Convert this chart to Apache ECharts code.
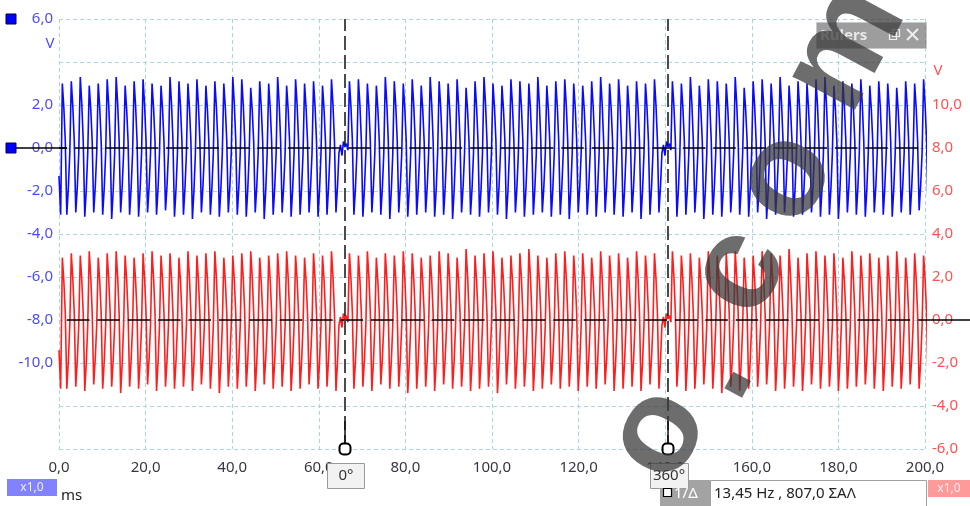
<!DOCTYPE html>
<html><head><meta charset="utf-8">
<script src="https://cdn.jsdelivr.net/npm/echarts@6/dist/echarts.min.js"></script>
<style>html,body{margin:0;padding:0;background:#fff;overflow:hidden}#c{width:970px;height:506px}</style>
</head><body><div id="c"></div>
<script>
// ---- data ----
const X_MIN = 0, X_MAX = 200, X_STEP = 20;          // ms
const LEFT_MIN = -14, LEFT_MAX = 6, Y_STEP = 2;     // V (blue)
const RIGHT_MIN = -6, RIGHT_MAX = 14;               // V (red)
const TOOTH_MS = 2.072;            // one tooth period
const FIRST_TOOTH_MS = 0.77;       // first tooth start
const MISSING_TEETH = [31, 67];    // missing-tooth slots
const RULERS_MS = [66.05, 140.65];
const RULER_LABELS = ['0°', '360°'];
const STEP_FRACTION = [0, 0.17, 0.33, 0.5, 0.67, 0.83];   // sample times within a tooth
const STEP_LEVEL = [1.0, 0.62, 0.1, -1.0, -0.6, -0.08];   // share of peak / trough
const GAP_LEVEL = [0.15, -0.35, 0.3, 0.05, 0.2, -0.1];    // missing-tooth wiggle (V)
const blueLead = [[0, -1.3], [0.38, -3.1]];
const redLead = [[0, -1.4], [0.38, -3.2]];
const blueHigh = [
3.0,3.1,3.3,2.9,3.0,3.2,3.3,2.9,3.1,3.2,3.0,2.9,3.3,3.1,3.0,3.2,2.9,3.1,3.0,3.3,
3.2,2.8,3.1,3.0,3.3,2.9,3.2,3.0,3.1,2.9,3.2,null,3.1,3.2,3.0,2.9,3.3,3.1,3.0,3.2,
2.9,3.3,3.1,3.0,3.2,2.8,3.1,3.3,3.0,2.9,3.2,3.1,3.0,3.3,2.9,3.1,3.2,3.0,2.9,3.1,
3.3,3.0,3.2,2.9,3.1,3.0,3.2,null,3.1,3.0,3.3,2.9,3.2,3.1,3.0,3.3,2.8,3.1,3.2,3.0,
3.3,2.9,3.1,3.0,3.2,3.3,2.9,3.1,3.0,3.2,2.9,3.1,3.0,2.8,3.1,3.0,3.2];
const blueLow = [
-3.1,-3.0,-3.2,-3.0,-3.1,-3.3,-3.0,-3.1,-3.2,-3.0,-3.1,-2.9,-3.2,-3.1,-3.3,-3.0,-3.1,-3.2,-3.0,-3.1,
-3.2,-3.0,-3.3,-3.1,-3.0,-3.2,-3.1,-3.0,-3.2,-3.1,-3.0,null,-3.1,-3.2,-3.0,-3.1,-3.3,-3.0,-3.2,-3.1,
-3.0,-3.2,-3.1,-3.3,-3.0,-3.1,-3.2,-3.0,-3.1,-3.3,-3.0,-3.2,-3.1,-3.0,-3.2,-3.1,-3.3,-3.0,-3.1,-3.2,
-3.0,-3.1,-3.2,-3.0,-3.3,-3.1,-3.0,null,-3.2,-3.1,-3.0,-3.3,-3.1,-3.2,-3.0,-3.1,-3.2,-3.0,-3.3,-3.1,
-3.0,-3.2,-3.1,-3.0,-3.2,-3.1,-3.3,-3.0,-3.1,-3.2,-3.0,-3.1,-3.2,-3.0,-3.1,-2.9,-3.1];
const redHigh = [
2.9,3.1,3.0,3.2,2.9,3.1,3.2,3.0,2.9,3.1,3.2,3.0,3.1,2.9,3.2,3.0,3.1,3.2,2.9,3.0,
3.1,3.2,2.9,3.0,3.1,3.2,3.0,2.9,3.1,3.0,3.2,null,3.1,3.0,3.2,2.9,3.1,3.0,3.2,3.1,
2.9,3.0,3.2,3.1,2.9,3.3,3.0,3.1,3.2,2.9,3.0,3.1,3.3,3.0,2.9,3.1,3.2,3.0,3.1,2.9,
3.2,3.0,3.1,2.9,3.2,3.0,3.1,null,3.2,3.0,3.1,2.9,3.2,3.0,3.1,3.2,2.9,3.0,3.2,3.1,
3.0,3.3,2.9,3.1,3.2,3.0,3.1,2.9,3.2,3.0,3.1,2.9,3.0,3.2,2.9,3.1,3.0];
const redLow = [
-3.2,-3.1,-3.3,-3.0,-3.2,-3.1,-3.4,-3.1,-3.2,-3.0,-3.3,-3.1,-3.2,-3.1,-3.3,-3.0,-3.2,-3.4,-3.1,-3.2,
-3.1,-3.3,-3.0,-3.2,-3.1,-3.3,-3.2,-3.0,-3.2,-3.1,-3.3,null,-3.2,-3.1,-3.3,-3.0,-3.2,-3.1,-3.4,-3.2,
-3.1,-3.3,-3.0,-3.2,-3.1,-3.3,-3.2,-3.1,-3.4,-3.0,-3.2,-3.1,-3.3,-3.2,-3.0,-3.2,-3.1,-3.3,-3.1,-3.2,
-3.0,-3.3,-3.2,-3.1,-3.3,-3.0,-3.2,null,-3.1,-3.3,-3.2,-3.0,-3.2,-3.4,-3.1,-3.3,-3.2,-3.1,-3.0,-3.3,
-3.2,-3.1,-3.3,-3.0,-3.2,-3.1,-3.3,-3.2,-3.1,-3.0,-3.2,-3.3,-3.1,-3.2,-3.0,-3.2,-3.1];
const READOUT = '13,45 Hz , 807,0 ΣΑΛ';

function buildTrace(lead, high, low) {
  const pts = lead.map(p => p.slice());
  for (let k = 0; k < high.length; k++) {
    const s = FIRST_TOOTH_MS + k * TOOTH_MS;
    const gap = MISSING_TEETH.includes(k);
    for (let i = 0; i < STEP_FRACTION.length; i++) {
      const t = s + STEP_FRACTION[i] * TOOTH_MS;
      const f = STEP_LEVEL[i];
      const v = gap ? GAP_LEVEL[i] : (f >= 0 ? f * high[k] : -f * low[k]);
      pts.push([+t.toFixed(3), +v.toFixed(3)]);
    }
  }
  return pts;
}
const fmt = v => v.toFixed(1).replace('.', ',');
const FONT = '"Noto Sans", "Open Sans", sans-serif';
const GRID_LINE = { show: true, lineStyle: { color: '#a9d7e6', type: [4, 3], width: 1 } };
const centered = (text, fill, font) => ({ text, fill, font, textAlign: 'center', textVerticalAlign: 'middle', align: 'center', verticalAlign: 'middle' });
const lefted = (text, fill, font) => ({ text, fill, font, textAlign: 'left', textVerticalAlign: 'middle', align: 'left', verticalAlign: 'middle' });

const chart = echarts.init(document.getElementById('c'), null, { renderer: 'canvas' });
chart.setOption({
  animation: false,
  backgroundColor: '#fff',
  grid: { left: 59, right: 45, top: 19, bottom: 57, containLabel: false },
  xAxis: {
    type: 'value', min: X_MIN, max: X_MAX, interval: X_STEP,
    axisLine: { show: false }, axisTick: { show: false },
    axisLabel: { formatter: fmt, color: '#363640', fontSize: 15, fontFamily: FONT, margin: 11, showMinLabel: true, showMaxLabel: true },
    splitLine: GRID_LINE
  },
  yAxis: [{
    type: 'value', min: LEFT_MIN, max: LEFT_MAX, interval: Y_STEP, position: 'left',
    axisLine: { show: false }, axisTick: { show: false },
    axisLabel: { formatter: v => (v === 4 || v < -10) ? '' : fmt(v), color: '#4a4aff', fontSize: 15, fontFamily: FONT, margin: 6, showMinLabel: true, showMaxLabel: true },
    splitLine: GRID_LINE
  }, {
    type: 'value', min: RIGHT_MIN, max: RIGHT_MAX, interval: Y_STEP, position: 'right',
    axisLine: { show: false }, axisTick: { show: false },
    axisLabel: { formatter: v => (v > 10) ? '' : fmt(v), color: '#ff5252', fontSize: 15, fontFamily: FONT, margin: 7, showMinLabel: true, showMaxLabel: true },
    splitLine: { show: false }
  }],
  series: [{
    name: 'A', type: 'line', yAxisIndex: 0, step: 'end', showSymbol: false, symbol: 'none',
    data: buildTrace(blueLead, blueHigh, blueLow),
    lineStyle: { color: '#0a0aff', width: 1.6 }, z: 3, silent: true,
    markLine: {
      silent: true, symbol: ['none', 'none'], label: { show: false }, animation: false, z: 10,
      data: [
        { yAxis: 0, lineStyle: { color: '#000', width: 1.5, type: [22.5, 7.9], dashOffset: 14.5 } }
      ]
    }
  }, {
    name: 'B', type: 'line', yAxisIndex: 1, step: 'end', showSymbol: false, symbol: 'none',
    data: buildTrace(redLead, redHigh, redLow),
    lineStyle: { color: '#ff1e1e', width: 1.6 }, z: 3, silent: true,
    markLine: {
      silent: true, symbol: ['none', 'none'], label: { show: false }, animation: false, z: 10,
      data: [
        { yAxis: 0, lineStyle: { color: '#000', width: 1.5, type: [22.5, 7.9], dashOffset: 22.5 } }
      ].concat(RULERS_MS.map(x => ({ xAxis: x, lineStyle: { color: '#111', width: 1.5, type: [14, 5] } })))
    }
  }]
});

// ---- decorations positioned via the chart's scales ----
const px = v => chart.convertToPixel({ xAxisIndex: 0 }, v);
const pyL = v => chart.convertToPixel({ yAxisIndex: 0 }, v);
const pyR = v => chart.convertToPixel({ yAxisIndex: 1 }, v);
const plotL = px(X_MIN), plotR = px(X_MAX), plotB = pyL(LEFT_MIN);
const g = [];
[LEFT_MAX, 0].forEach(v => {
  g.push({ type: 'rect', shape: { x: 6, y: Math.round(pyL(v)) - 5, width: 10, height: 10 }, style: { fill: '#0000ff', stroke: '#00004a', lineWidth: 1 }, z: 20 });
});
g.push({ type: 'line', shape: { x1: 16, y1: pyL(0), x2: plotL + 8, y2: pyL(0) }, style: { stroke: '#000', lineWidth: 1.5 }, z: 19 });
g.push({ type: 'line', shape: { x1: plotR, y1: pyR(0), x2: 970, y2: pyR(0) }, style: { stroke: '#000', lineWidth: 1.5 }, z: 19 });
g.push({ type: 'text', x: 50, y: (pyL(6) + pyL(4)) / 2 + 3, style: centered('V', '#4a4aff', '15px ' + FONT), z: 20 });
g.push({ type: 'text', x: 938, y: pyR(12) + 9, style: centered('V', '#ff5252', '15px ' + FONT), z: 20 });
RULERS_MS.forEach((ms, i) => {
  const x = px(ms);
  g.push({ type: 'line', shape: { x1: x, y1: plotB - 28, x2: x, y2: plotB - 4 }, style: { stroke: '#111', lineWidth: 1.5 }, z: 21 });
  g.push({ type: 'rect', shape: { x: x - 5.5, y: plotB - 5.5, width: 11, height: 11, r: 4 }, style: { fill: '#fff', stroke: '#000', lineWidth: 2 }, z: 21 });
  g.push({ type: 'rect', shape: { x: Math.round(x - 18) + 0.5, y: 463.5, width: i === 0 ? 37 : 38, height: 25 }, style: { fill: '#f2f2f2', stroke: '#9a9a9a', lineWidth: 1 }, z: 21 });
  g.push({ type: 'text', x: x + 1, y: 476, style: centered(RULER_LABELS[i], '#333', '15px ' + FONT), z: 22 });
});
g.push({ type: 'rect', shape: { x: 7, y: 479, width: 50, height: 17 }, style: { fill: '#8282ff' }, z: 20 });
g.push({ type: 'text', x: 32, y: 488, style: centered('x1,0', '#ececff', '12px ' + FONT), z: 21 });
g.push({ type: 'text', x: 61, y: 496, style: lefted('ms', '#222', '15px ' + FONT), z: 21 });
g.push({ type: 'rect', shape: { x: 928, y: 480, width: 42, height: 17 }, style: { fill: '#ff9a9a' }, z: 20 });
g.push({ type: 'text', x: 949, y: 489, style: centered('x1,0', '#fff0f0', '12px ' + FONT), z: 21 });
g.push({ type: 'rect', shape: { x: 660, y: 480, width: 50, height: 26 }, style: { fill: '#a3a3a3' }, z: 20 });
g.push({ type: 'rect', shape: { x: 663.5, y: 488.5, width: 8, height: 8 }, style: { fill: '#fff', stroke: '#000', lineWidth: 1.2 }, z: 21 });
g.push({ type: 'text', x: 674, y: 494, style: lefted('1/Δ', '#fff', '15px ' + FONT), z: 21 });
g.push({ type: 'rect', shape: { x: 710.5, y: 480.5, width: 216, height: 30 }, style: { fill: '#fff', stroke: '#a0a0a0', lineWidth: 1 }, z: 20 });
g.push({ type: 'text', x: 714, y: 494, style: lefted(READOUT, '#222', '15px ' + FONT), z: 21 });
// rulers panel
g.push({ type: 'rect', shape: { x: 816.5, y: 22.5, width: 110, height: 26 }, style: { fill: 'rgba(115,115,115,0.7)', stroke: '#c8c8c8', lineWidth: 1 }, z: 30 });
g.push({ type: 'text', x: 820, y: 36, style: lefted('Rulers', '#e8e8e8', 'bold 15px ' + FONT), z: 31 });
g.push({ type: 'rect', shape: { x: 889.5, y: 32.5, width: 7, height: 7 }, style: { fill: 'none', stroke: '#eee', lineWidth: 1.2 }, z: 31 });
g.push({ type: 'rect', shape: { x: 892.5, y: 29.5, width: 7, height: 7 }, style: { fill: 'none', stroke: '#eee', lineWidth: 1.2 }, z: 31 });
g.push({ type: 'line', shape: { x1: 907, y1: 29, x2: 918, y2: 40 }, style: { stroke: '#f0f0f0', lineWidth: 2 }, z: 31 });
g.push({ type: 'line', shape: { x1: 918, y1: 29, x2: 907, y2: 40 }, style: { stroke: '#f0f0f0', lineWidth: 2 }, z: 31 });
// watermark
const WM = [['o', 659, 434], ['.', 714, 372], ['c', 740, 272], ['o', 786, 178], ['m', 846, 48]];
WM.forEach(([ch, x, y]) => {
  g.push({ type: 'text', x: x, y: y, rotation: 1.08, silent: true,
    style: centered(ch, 'rgba(58,58,58,0.74)', 'bold 134px "Liberation Sans", Arial, sans-serif'), z: 100 });
});
chart.setOption({ graphic: g });
</script></body></html>
